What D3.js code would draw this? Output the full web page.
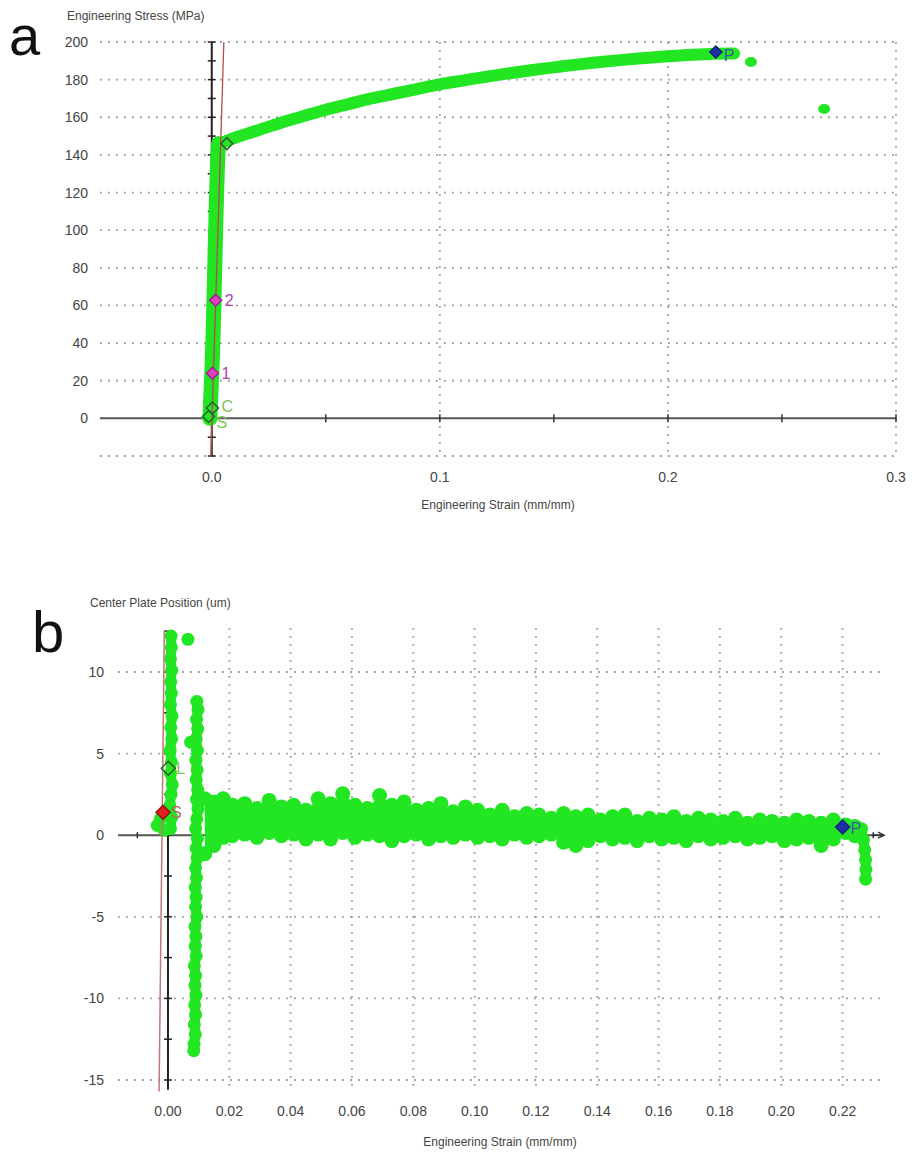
<!DOCTYPE html>
<html lang="en">
<head>
<meta charset="utf-8">
<title>Stress-strain and center plate position</title>
<script src="https://d3js.org/d3.v7.min.js"></script>
<style>
    body { margin: 0; background: #fff; }
    svg { display: block; }
    text { font-family: 'Liberation Sans', Arial, sans-serif; fill: #444; }
    .grid { stroke: #9a9a9a; stroke-width: 1.8; stroke-dasharray: 1.8,6.2; fill: none; }
</style>
</head>
<body>
<svg id="chart" width="917" height="1157"></svg>
<script>
    // ---- panel a : engineering stress vs strain ----
    // elastic part, [strain, stress]
    const elasticA = [[-0.0008,0],[-0.0003,15],[0.0002,30],[0.0006,45],[0.0009,60],[0.0012,75],
        [0.0015,90],[0.0018,105],[0.0021,118],[0.0024,130],[0.0027,140],[0.003,146]];
    // plastic part
    const plasticA = [[0.003,146],[0.006,147.2],[0.01,149],[0.02,153],[0.03,157],[0.04,160.5],
        [0.05,164],[0.06,167],[0.07,170],[0.08,172.5],[0.09,175],[0.10,177.5],[0.11,179.5],
        [0.12,181.5],[0.13,183.3],[0.14,185],[0.15,186.5],[0.16,188],[0.17,189.3],[0.18,190.5],
        [0.19,191.5],[0.20,192.4],[0.21,193.2],[0.22,193.8],[0.229,193.9]];
    const outliersA = [[0.2364,189.4],[0.2685,164.4]];
    const modulusA = [[-0.0004,-20],[0.0053,200]];
    const markersA = [
        {x: -0.0014, y: 1,   label: 'S', fill: 'none',    stroke: '#2d5e2d', color: '#7cc35a', dx: 8,  dy: 12},
        {x: 0.0003,  y: 5.5, label: 'C', fill: 'none',    stroke: '#2d5e2d', color: '#7cc35a', dx: 9,  dy: 4},
        {x: 0.0003,  y: 24,  label: '1', fill: '#e040c0', stroke: '#a02090', color: '#b040b0', dx: 9,  dy: 6},
        {x: 0.0017,  y: 62.8,label: '2', fill: '#e040c0', stroke: '#a02090', color: '#b040b0', dx: 9,  dy: 6},
        {x: 0.0066,  y: 146, label: '',  fill: 'none',    stroke: '#2d5e2d', color: '#7cc35a', dx: 9,  dy: 4},
        {x: 0.221,   y: 194.7,label: 'P',fill: '#1b2fa8', stroke: '#10207a', color: '#3a5aa8', dx: 8,  dy: 9}
    ];
    const yTicksA = d3.range(0, 201, 20);
    const yGridA = d3.range(-20, 201, 20).filter(v => v !== 0);
    const xTicksA = [0, 0.1, 0.2, 0.3];

    // ---- panel b : center plate position vs strain ----
    const colLeftB = [[-0.0035,0.6],[-0.0025,1.0],[-0.0012,0.3],[0.0008,0.4],[0.0012,1.1],[0.0006,1.8],
        [0.0010,2.5],[0.0014,3.1],[0.0008,3.8],[0.0011,4.5],[0.0007,5.2],[0.0012,5.9],[0.0009,6.6],
        [0.0013,7.3],[0.0008,8.0],[0.0011,8.7],[0.0009,9.4],[0.0012,10.1],[0.0008,10.8],[0.0011,11.5],
        [0.0010,12.2]];
    const lonelyB = [[0.0065,12.0]];
    const colSpikeB = [[0.0094,8.2],[0.0098,7.7],[0.0093,7.1],[0.0097,6.5],[0.0092,5.9],[0.0074,5.7],
        [0.0096,5.2],[0.0091,4.6],[0.0095,4.0],[0.0092,3.4],[0.0097,2.8],[0.0093,2.2],[0.0098,1.6],
        [0.0094,1.0],[0.0090,0.4],[0.0096,-0.2],[0.0092,-0.8],[0.0095,-1.4],[0.0090,-2.0],[0.0093,-2.6],
        [0.0089,-3.2],[0.0092,-3.8],[0.0090,-4.4],[0.0094,-5.0],[0.0088,-5.6],[0.0091,-6.2],[0.0089,-6.8],
        [0.0092,-7.4],[0.0086,-8.0],[0.0090,-8.6],[0.0088,-9.2],[0.0091,-9.8],[0.0087,-10.4],[0.0090,-11.0],
        [0.0086,-11.6],[0.0089,-12.2],[0.0085,-12.8],[0.0084,-13.2]];
    // noisy band: strain, upper edge, lower edge (um)
    const bandStrainB = [0.012,0.015,0.018,0.021,0.025,0.029,0.033,0.037,0.041,0.045,0.049,0.053,0.057,
        0.061,0.065,0.069,0.073,0.077,0.081,0.085,0.089,0.093,0.097,0.101,0.105,0.109,0.113,0.117,0.121,
        0.125,0.129,0.133,0.137,0.141,0.145,0.149,0.153,0.157,0.161,0.165,0.169,0.173,0.177,0.181,0.185,
        0.189,0.193,0.197,0.201,0.205,0.209,0.213,0.217,0.221,0.224];
    const bandUpperB = [2.6,2.4,2.6,2.2,2.3,2.0,2.5,2.1,2.2,1.9,2.6,2.3,2.9,2.2,2.0,2.8,2.2,2.4,1.9,2.0,
        2.3,1.8,2.1,1.9,1.6,1.9,1.5,1.7,1.6,1.4,1.7,1.5,1.6,1.3,1.5,1.6,1.2,1.4,1.3,1.5,1.2,1.4,1.3,1.2,
        1.4,1.1,1.3,1.2,1.1,1.3,1.2,1.1,1.3,1.0,0.9];
    const bandLowerB = [-1.5,-1.0,-0.5,-0.4,-0.3,-0.5,-0.2,-0.4,-0.3,-0.6,-0.3,-0.6,-0.2,-0.5,-0.3,-0.4,
        -0.7,-0.4,-0.3,-0.6,-0.4,-0.5,-0.3,-0.5,-0.4,-0.6,-0.3,-0.5,-0.4,-0.3,-0.8,-1.0,-0.7,-0.4,-0.6,
        -0.5,-0.7,-0.4,-0.6,-0.5,-0.7,-0.4,-0.6,-0.5,-0.4,-0.6,-0.5,-0.4,-0.7,-0.6,-0.5,-1.0,-0.6,-0.2,-0.4];
    const tailB = [[0.2262,0.4],[0.2268,-0.3],[0.2272,-0.9],[0.2275,-1.5],[0.2276,-2.1],[0.2275,-2.7]];
    const modulusB = [[-0.0029,-15.7],[-0.0012,12.5]];
    const markersB = [
        {x: -0.0016, y: 1.4, label: 'S', fill: '#e02020', stroke: '#a01010', color: '#c06060', dx: 8, dy: 6},
        {x: 0.0001,  y: 4.1, label: 'L', fill: 'none',    stroke: '#2d5e2d', color: '#7cc35a', dx: 8, dy: 6},
        {x: 0.2200,  y: 0.5, label: 'P', fill: '#1b2fa8', stroke: '#10207a', color: '#3a5aa8', dx: 8, dy: 7}
    ];
    const yTicksB = [10, 5, 0, -5, -10, -15];
    const xTicksB = d3.range(0, 0.2201, 0.02);

    const GREEN = '#22e622';
    const svg = d3.select('#chart');

    function diamond(g, m, x, y, size) {
        g.append('path')
            .attr('d', `M0,${-size}L${size},0L0,${size}L${-size},0Z`)
            .attr('transform', `translate(${x(m.x)},${y(m.y)})`)
            .attr('fill', m.fill).attr('stroke', m.stroke).attr('stroke-width', 1.5);
        if (m.label) {
            g.append('text').attr('x', x(m.x) + m.dx).attr('y', y(m.y) + m.dy)
                .attr('font-size', 16).style('fill', m.color).text(m.label);
        }
    }

    // ================= panel a =================
    const xA = d3.scaleLinear().domain([-0.049, 0.3]).range([100, 896]);
    const yA = d3.scaleLinear().domain([-20, 200]).range([456, 42]);
    const gA = svg.append('g');

    gA.selectAll('line.hgrid').data(yGridA).join('line').attr('class', 'grid')
        .attr('x1', xA.range()[0]).attr('x2', xA.range()[1])
        .attr('y1', d => yA(d)).attr('y2', d => yA(d));
    gA.selectAll('line.vgrid').data([0.1, 0.2, 0.3]).join('line').attr('class', 'grid')
        .attr('x1', d => xA(d)).attr('x2', d => xA(d))
        .attr('y1', yA(200)).attr('y2', yA(-20));

    // zero axis with ticks every 0.05
    gA.append('line').attr('x1', xA(-0.049)).attr('x2', xA(0.3)).attr('y1', yA(0)).attr('y2', yA(0))
        .attr('stroke', '#555').attr('stroke-width', 2);
    gA.selectAll('line.xt').data(d3.range(-0.05, 0.301, 0.05).filter(d => d > -0.049)).join('line')
        .attr('x1', d => xA(d)).attr('x2', d => xA(d)).attr('y1', yA(0) - 4).attr('y2', yA(0) + 4)
        .attr('stroke', '#333').attr('stroke-width', 1.5);
    // strain = 0 axis, ticks every 10 MPa
    gA.append('line').attr('x1', xA(0)).attr('x2', xA(0)).attr('y1', yA(200)).attr('y2', yA(-20))
        .attr('stroke', '#222').attr('stroke-width', 2);
    gA.selectAll('line.yt').data(d3.range(-20, 201, 10)).join('line')
        .attr('x1', xA(0) - 4).attr('x2', xA(0) + 4).attr('y1', d => yA(d)).attr('y2', d => yA(d))
        .attr('stroke', '#222').attr('stroke-width', 1.5);

    gA.selectAll('text.yl').data(yTicksA).join('text')
        .attr('x', 88).attr('y', d => yA(d) + 5).attr('text-anchor', 'end')
        .attr('font-size', 14).text(d => d);
    gA.selectAll('text.xl').data(xTicksA).join('text')
        .attr('x', d => xA(d)).attr('y', 482).attr('text-anchor', 'middle')
        .attr('font-size', 14).text(d => d.toFixed(1));

    gA.append('text').attr('x', 67).attr('y', 20).attr('font-size', 12).text('Engineering Stress (MPa)');
    gA.append('text').attr('x', 498).attr('y', 509).attr('text-anchor', 'middle')
        .attr('font-size', 12).text('Engineering Strain (mm/mm)');
    gA.append('text').attr('x', 9).attr('y', 55).attr('font-size', 56).style('fill', '#111').text('a');

    const lineA = d3.line().x(d => xA(d[0])).y(d => yA(d[1])).curve(d3.curveCatmullRom);
    gA.append('path').datum(elasticA).attr('d', lineA).attr('fill', 'none')
        .attr('stroke', GREEN).attr('stroke-width', 15).attr('stroke-linecap', 'round');
    gA.append('path').datum(plasticA).attr('d', lineA).attr('fill', 'none')
        .attr('stroke', GREEN).attr('stroke-width', 12).attr('stroke-linecap', 'round');
    gA.selectAll('ellipse.out').data(outliersA).join('ellipse')
        .attr('cx', d => xA(d[0])).attr('cy', d => yA(d[1])).attr('rx', 6).attr('ry', 5)
        .attr('fill', GREEN);

    gA.append('path').datum(modulusA).attr('d', lineA.curve(d3.curveLinear)).attr('fill', 'none')
        .attr('stroke', '#b84a4a').attr('stroke-width', 1.3);

    markersA.forEach(m => diamond(gA, m, xA, yA, 6));

    // ================= panel b =================
    const xB = d3.scaleLinear().domain([-0.0163, 0.2335]).range([118, 884]);
    const yB = d3.scaleLinear().domain([-15, 10]).range([1080, 672]);
    const gB = svg.append('g');

    gB.selectAll('line.hgrid').data(yTicksB.filter(d => d !== 0)).join('line').attr('class', 'grid')
        .attr('x1', xB.range()[0]).attr('x2', xB.range()[1])
        .attr('y1', d => yB(d)).attr('y2', d => yB(d));
    gB.selectAll('line.vgrid').data(xTicksB.slice(1)).join('line').attr('class', 'grid')
        .attr('x1', d => xB(d)).attr('x2', d => xB(d))
        .attr('y1', yB(12.7)).attr('y2', yB(-15.7));

    gB.append('line').attr('x1', xB(-0.0163)).attr('x2', xB(0.2335)).attr('y1', yB(0)).attr('y2', yB(0))
        .attr('stroke', '#555').attr('stroke-width', 2);
    gB.selectAll('line.xt').data(d3.range(-0.01, 0.2301, 0.01)).join('line')
        .attr('x1', d => xB(d)).attr('x2', d => xB(d)).attr('y1', yB(0) - 3).attr('y2', yB(0) + 3)
        .attr('stroke', '#333').attr('stroke-width', 1.5);
    gB.append('line').attr('x1', xB(0)).attr('x2', xB(0)).attr('y1', yB(12.5)).attr('y2', yB(-15.6))
        .attr('stroke', '#222').attr('stroke-width', 2);
    gB.selectAll('line.yt').data(d3.range(-15, 12.6, 2.5)).join('line')
        .attr('x1', xB(0) - 4).attr('x2', xB(0) + 4).attr('y1', d => yB(d)).attr('y2', d => yB(d))
        .attr('stroke', '#222').attr('stroke-width', 1.5);

    gB.selectAll('text.yl').data(yTicksB).join('text')
        .attr('x', 104).attr('y', d => yB(d) + 5).attr('text-anchor', 'end')
        .attr('font-size', 14).text(d => d);
    gB.selectAll('text.xl').data(xTicksB).join('text')
        .attr('x', d => xB(d)).attr('y', 1116).attr('text-anchor', 'middle')
        .attr('font-size', 14).text(d => d.toFixed(2));

    gB.append('text').attr('x', 90).attr('y', 607).attr('font-size', 12).text('Center Plate Position (um)');
    gB.append('text').attr('x', 500).attr('y', 1146).attr('text-anchor', 'middle')
        .attr('font-size', 12).text('Engineering Strain (mm/mm)');
    gB.append('text').attr('x', 32).attr('y', 652).attr('font-size', 58).style('fill', '#111').text('b');

    // noisy band: filled area plus round bumps along both edges
    const R = 6;
    const band = bandStrainB.map((s, i) => ({s, up: bandUpperB[i], lo: bandLowerB[i]}));
    gB.append('path').datum(band)
        .attr('d', d3.area().x(d => xB(d.s)).y0(d => yB(d.lo) - R).y1(d => yB(d.up) + R)
            .curve(d3.curveCatmullRom))
        .attr('fill', GREEN);
    gB.selectAll('circle.up').data(band).join('circle')
        .attr('cx', d => xB(d.s)).attr('cy', d => yB(d.up) + R).attr('r', R + 1.5).attr('fill', GREEN);
    gB.selectAll('circle.lo').data(band).join('circle')
        .attr('cx', d => xB(d.s)).attr('cy', d => yB(d.lo) - R).attr('r', R + 1.5).attr('fill', GREEN);

    // columns: a thick stroke behind the dots so they read as one trace
    const lineB = d3.line().x(d => xB(d[0])).y(d => yB(d[1]));
    [colLeftB.slice(3), colSpikeB.filter(d => d[0] > 0.008), tailB].forEach(col => {
        gB.append('path').datum(col).attr('d', lineB).attr('fill', 'none')
            .attr('stroke', GREEN).attr('stroke-width', 10).attr('stroke-linecap', 'round');
    });
    const dots = colLeftB.concat(lonelyB, colSpikeB, tailB);
    gB.selectAll('circle.dot').data(dots).join('circle')
        .attr('cx', d => xB(d[0])).attr('cy', d => yB(d[1])).attr('r', R + 0.5).attr('fill', GREEN);

    gB.append('path').datum(modulusB).attr('d', lineB).attr('fill', 'none')
        .attr('stroke', '#c07878').attr('stroke-width', 1.5);

    // small end mark on the zero axis
    gB.append('path')
        .attr('d', `M${xB(0.2335) - 12},${yB(0)}L${xB(0.2335)},${yB(0)}M${xB(0.2335) - 6},${yB(0) - 3}L${xB(0.2335)},${yB(0)}L${xB(0.2335) - 6},${yB(0) + 3}`)
        .attr('stroke', '#333').attr('stroke-width', 1.5).attr('fill', 'none');

    markersB.forEach(m => diamond(gB, m, xB, yB, 7));
</script>
</body>
</html>
